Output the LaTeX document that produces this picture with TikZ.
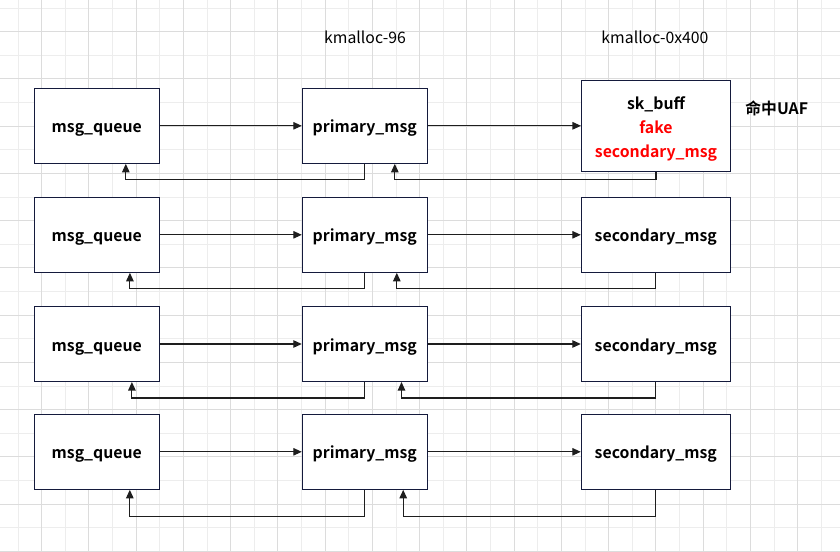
\documentclass[tikz,border=0pt]{standalone}
\usepackage{fontspec}
\setmainfont{Noto Sans CJK SC}[BoldFont={Noto Sans CJK SC Bold}]
\usetikzlibrary{arrows.meta,calc}
\definecolor{gridmajor}{HTML}{DCDCDC}
\definecolor{gridminor}{HTML}{EDEDED}
\definecolor{boxline}{HTML}{141A3C}
\definecolor{wire}{HTML}{1E1E1E}
\definecolor{hitred}{HTML}{FF0000}

\begin{document}
\begin{tikzpicture}[x=0.02cm, y=-0.02cm,
    cell/.style={draw=boxline, line width=0.6pt, fill=white, inner sep=0pt,
                 minimum width=2.5cm, minimum height=1.5cm,
                 font=\bfseries\fontsize{9}{13.6}\selectfont},
    obj/.style={cell, text height=8pt, text depth=0pt},
    slab/.style={obj, minimum width=2.98cm},
    cache/.style={font=\fontsize{9}{11}\selectfont},
    link/.style={draw=wire, line width=0.6pt, -{Triangle[length=0.17cm, width=0.15cm]}},
    back/.style={link},
  ]
    % background grid
    \useasboundingbox (0,0) rectangle (840,552);
    \fill[white] (0,0) rectangle (840,552);
    \begin{scope}
      \clip (0,0) rectangle (840,552);
      \foreach \k in {0,...,17} {
        \draw[gridminor, line width=0.6pt] (18.1+47.25*\k,0) -- (18.1+47.25*\k,552);
        \draw[gridminor, line width=0.6pt] (0,8.1+47.25*\k) -- (840,8.1+47.25*\k);
      }
      \foreach \k in {0,...,17} {
        \draw[gridmajor, line width=0.6pt] (41.7+47.25*\k,0) -- (41.7+47.25*\k,552);
        \draw[gridmajor, line width=0.6pt] (0,31.7+47.25*\k) -- (840,31.7+47.25*\k);
      }
    \end{scope}

    % slab caches
    \node[cache] (c96) at (365,37.3) {kmalloc-96};
    \node[cache] (c400) at (655,37.3) {kmalloc-0x400};

    % row 1: the hit
    \node[obj] (q1) at (96.8,125.8) {msg\_queue};
    \node[obj] (p1) at (364.8,125.8) {primary\_msg};
    \node[cell, minimum width=2.98cm, minimum height=1.82cm] (s1) at (656,125.8)
      {\raisebox{-3.8pt}[0pt][0pt]{\begin{tabular}{@{}c@{}}sk\_buff\\\textcolor{hitred}{fake}\\\textcolor{hitred}{secondary\_msg}\end{tabular}}};
    \node[font=\bfseries\fontsize{9}{11}\selectfont] (uaf) at (776.7,108.3) {命中UAF};
    \draw[link] (q1) -- (p1);
    \draw[link] (p1) -- (s1);
    \draw[back] (p1.south) -- ++(0,16) -| ($(q1.south east)+(-34,0)$);
    \draw[back] (s1.south) -- ++(0,8) -| ($(p1.south east)+(-33,0)$);

    % rows 2-4
    \foreach \i/\cy/\drop/\qo/\po in {2/234.8/16/-29.9/-31, 3/344/16/-27.9/-26.3, 4/451.8/27/-30/-24.6} {
      \node[obj] (q\i) at (96.8,\cy) {msg\_queue};
      \node[obj] (p\i) at (364.8,\cy) {primary\_msg};
      \node[slab] (s\i) at (655.8,\cy) {secondary\_msg};
      \draw[link] (q\i) -- (p\i);
      \draw[link] (p\i) -- (s\i);
      \draw[back] (p\i.south) -- ++(0,\drop) -| ($(q\i.south east)+(\qo,0)$);
      \draw[back] (s\i.south) -- ++(0,\drop) -| ($(p\i.south east)+(\po,0)$);
    }
  \end{tikzpicture}
\end{document}
